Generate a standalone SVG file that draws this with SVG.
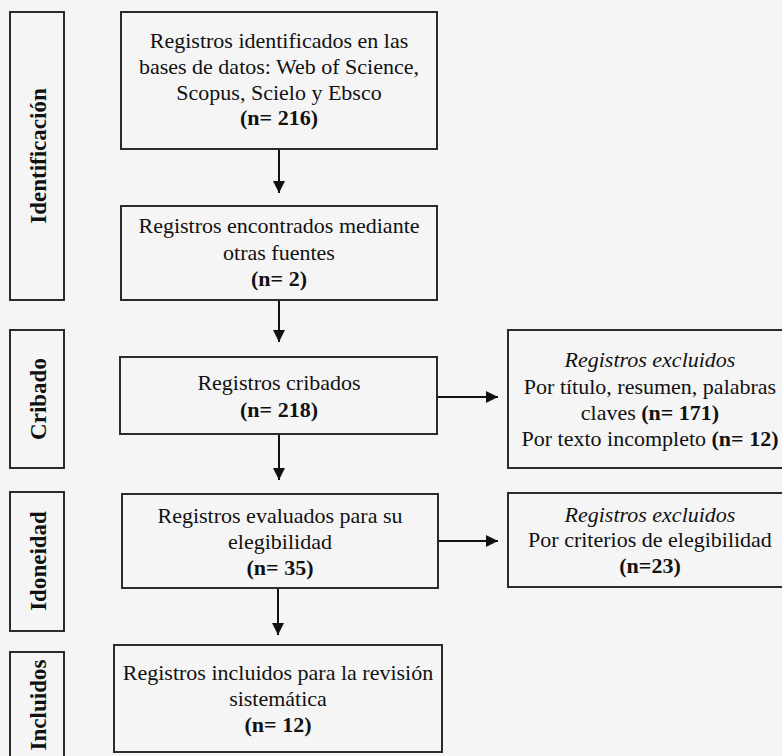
<svg xmlns="http://www.w3.org/2000/svg" width="782" height="756" viewBox="0 0 782 756">
<style>
.box{fill:none;stroke:#2b2b2b;stroke-width:2}
.t{font-family:"Liberation Serif","Times New Roman",serif;font-size:22px;fill:#111;text-anchor:middle}
.b{font-weight:bold}
.i{font-style:italic}
.lab{font-family:"Liberation Serif","Times New Roman",serif;font-size:23px;font-weight:bold;fill:#111;text-anchor:middle}
.ln{stroke:#111;stroke-width:2;fill:none}
</style>
<defs>
<marker id="ah" viewBox="0 0 12 12" refX="12" refY="6" markerWidth="12" markerHeight="12" markerUnits="userSpaceOnUse" orient="auto">
<path d="M0,0 L12,6 L0,12 Z" fill="#111"/>
</marker>
</defs>
<rect x="0" y="0" width="782" height="756" fill="#f5f5f5"/>
<g id="lab-identificacion">
<rect class="box" x="10" y="12" width="54" height="288"/>
<text class="lab" transform="translate(46,156) rotate(-90)">Identificación</text>
</g>
<g id="lab-cribado">
<rect class="box" x="10" y="330" width="54" height="138"/>
<text class="lab" transform="translate(46,399) rotate(-90)">Cribado</text>
</g>
<g id="lab-idoneidad">
<rect class="box" x="10" y="492" width="54" height="139"/>
<text class="lab" transform="translate(46,561) rotate(-90)">Idoneidad</text>
</g>
<g id="lab-incluidos">
<rect class="box" x="10" y="652" width="54" height="110"/>
<text class="lab" transform="translate(46,705) rotate(-90)">Incluidos</text>
</g>
<g id="n1">
<rect class="box" x="121" y="12" width="316" height="137"/>
<text class="t" x="279" y="48">Registros identificados en las</text>
<text class="t" x="279" y="74">bases de datos: Web of Science,</text>
<text class="t" x="279" y="100">Scopus, Scielo y Ebsco</text>
<text class="t b" x="279" y="125">(n= 216)</text>
</g>
<g id="n2">
<rect class="box" x="121" y="206" width="316" height="94"/>
<text class="t" x="279" y="233">Registros encontrados mediante</text>
<text class="t" x="279" y="260">otras fuentes</text>
<text class="t b" x="279" y="286">(n= 2)</text>
</g>
<g id="n3">
<rect class="box" x="120" y="357" width="317" height="77"/>
<text class="t" x="279" y="390">Registros cribados</text>
<text class="t b" x="279" y="417">(n= 218)</text>
</g>
<g id="n4">
<rect class="box" x="122" y="494" width="316" height="94"/>
<text class="t" x="280" y="523">Registros evaluados para su</text>
<text class="t" x="280" y="549">elegibilidad</text>
<text class="t b" x="280" y="575">(n= 35)</text>
</g>
<g id="n5">
<rect class="box" x="114" y="645" width="328" height="107"/>
<text class="t" x="278" y="680">Registros incluidos para la revisión</text>
<text class="t" x="278" y="706">sistemática</text>
<text class="t b" x="278" y="732">(n= 12)</text>
</g>
<g id="x1">
<rect class="box" x="508" y="330" width="284" height="138"/>
<text class="t i" x="650" y="367">Registros excluidos</text>
<text class="t" x="650" y="394">Por título, resumen, palabras</text>
<text class="t" x="650" y="420">claves <tspan class="b">(n= 171)</tspan></text>
<text class="t" x="650" y="446">Por texto incompleto <tspan class="b">(n= 12)</tspan></text>
</g>
<g id="x2">
<rect class="box" x="508" y="493" width="284" height="94"/>
<text class="t i" x="650" y="522">Registros excluidos</text>
<text class="t" x="650" y="547">Por criterios de elegibilidad</text>
<text class="t b" x="650" y="573">(n=23)</text>
</g>
<g id="connectors">
<line class="ln" x1="279" y1="150" x2="279" y2="193" marker-end="url(#ah)"/>
<line class="ln" x1="279" y1="301" x2="279" y2="342" marker-end="url(#ah)"/>
<line class="ln" x1="279" y1="435" x2="279" y2="480" marker-end="url(#ah)"/>
<line class="ln" x1="278" y1="589" x2="278" y2="635" marker-end="url(#ah)"/>
<line class="ln" x1="438" y1="397" x2="498" y2="397" marker-end="url(#ah)"/>
<line class="ln" x1="439" y1="541" x2="498" y2="541" marker-end="url(#ah)"/>
</g>
</svg>
